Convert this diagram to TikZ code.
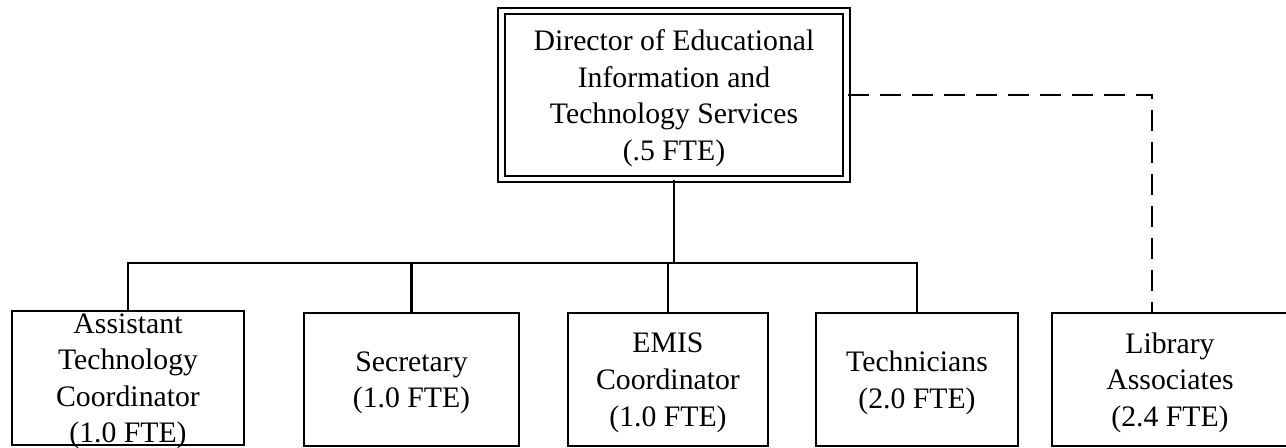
\documentclass[tikz,border=0pt]{standalone}
\usepackage{fontspec}
\setmainfont{Liberation Serif}
\begin{document}
\begin{tikzpicture}[x=0.75pt,y=-0.75pt,
  every node/.style={font=\fontsize{22.3pt}{27.4pt}\selectfont, align=center, inner sep=0pt},
  box/.style={draw, line width=1.7pt, minimum height=99.75pt},
  txt/.style={yshift=-2.5pt},
  conn/.style={line width=1.7pt},
  dashconn/.style={line width=1.7pt, dash pattern=on 15.75pt off 8.25pt}]
\useasboundingbox (0,0) rectangle (1286,448);
\node[draw, line width=1.5pt, double, double distance=3.5pt, minimum width=258.75pt, minimum height=126pt] (dir) at (674,95) {};
\node[txt] (dirt) at (dir.center) {Director of Educational\\Information and\\Technology Services\\(.5 FTE)};
\node[box, minimum width=174pt, minimum height=100.5pt] (asst) at (128,378) {};
\node[txt] (asstt) at (asst.center) {Assistant\\Technology\\Coordinator\\(1.0 FTE)};
\node[box, minimum width=161.25pt] (sec) at (411.5,379.5) {};
\node[txt] (sect) at (sec.center) {Secretary\\(1.0 FTE)};
\node[box, minimum width=150pt] (emis) at (668,379.5) {};
\node[txt] (emist) at (emis.center) {EMIS\\Coordinator\\(1.0 FTE)};
\node[box, minimum width=151.5pt] (tech) at (917,379.5) {};
\node[txt] (techt) at (tech.center) {Technicians\\(2.0 FTE)};
\node[box, minimum width=177pt] (lib) at (1170,379.5) {};
\node[txt] (libt) at (lib.center) {Library\\Associates\\(2.4 FTE)};
\coordinate (bus) at (0,263);
\coordinate (libin) at (lib.north -| 1152,0);
\draw[conn] (dir.south) -- (dir.south |- bus);
\draw[conn] (asst.north) -- (asst.north |- bus) -- (tech.north |- bus) -- (tech.north);
\draw[conn] (sec.north) -- (sec.north |- bus);
\draw[conn] (emis.north) -- (emis.north |- bus);
\draw[dashconn] (dir.east) -| (libin);
\end{tikzpicture}
\end{document}
